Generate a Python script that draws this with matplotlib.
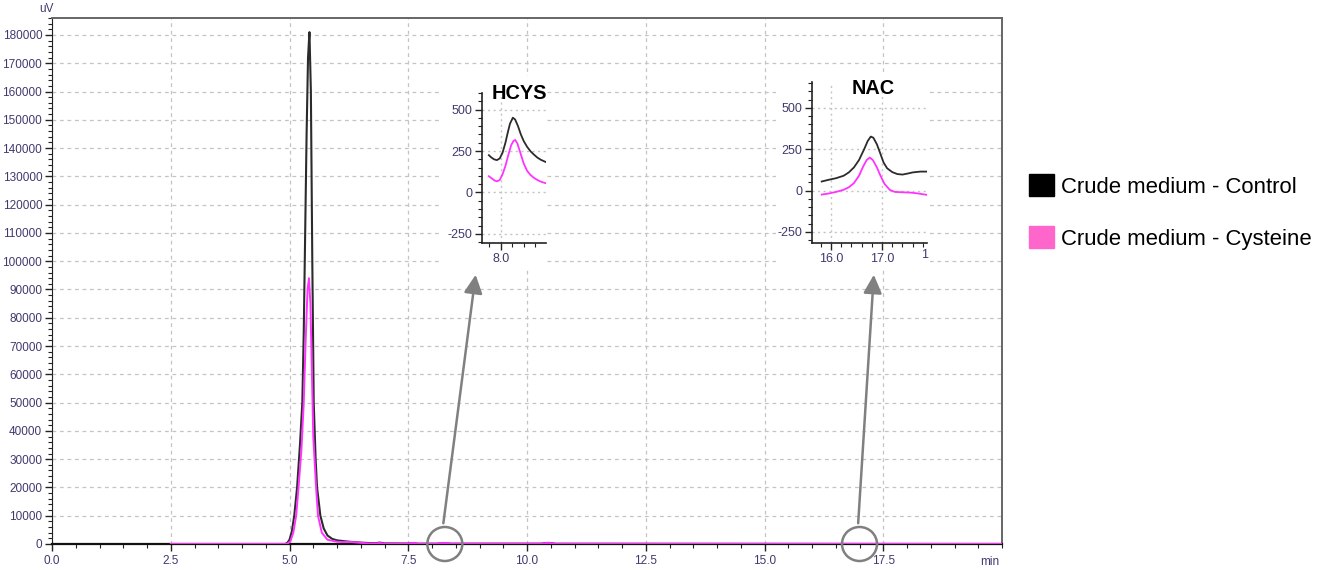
import matplotlib
matplotlib.use("Agg")
import matplotlib.pyplot as plt
from matplotlib.patches import Ellipse, Patch, FancyArrowPatch
from matplotlib.ticker import MultipleLocator, FixedLocator

plt.rcParams['font.family'] = ['Liberation Sans', 'DejaVu Sans']
plt.rcParams['axes.unicode_minus'] = False

# ---------------- data ----------------
time_ctrl = [2.5, 4.90, 4.95, 5.00, 5.05, 5.10, 5.16, 5.22, 5.27, 5.30, 5.33, 5.36, 5.39, 5.42,
             5.45, 5.48, 5.51, 5.55, 5.58, 5.65, 5.72, 5.80, 5.90, 6.00, 6.20, 6.40, 6.60,
             6.80, 6.90, 7.00, 7.50, 7.60, 7.70, 8.10, 8.25, 8.40, 10.30, 10.45, 10.60, 20.0]
sig_ctrl = [0, 0, 300, 1500, 4500, 10000, 20000, 35000, 50000, 75000, 110000, 145000, 172000, 181000,
            160000, 100000, 50000, 30000, 20000, 10000, 5500, 3000, 1800, 1300, 900, 600, 400,
            250, 500, 200, 150, 350, 100, 100, 300, 100, 100, 400, 80, 0]

time_cys = [2.5, 4.95, 5.02, 5.08, 5.14, 5.19, 5.25, 5.30, 5.34, 5.38, 5.41, 5.44, 5.47, 5.50, 5.56, 5.60,
            5.68, 5.80, 6.00, 6.10, 6.30, 6.45, 6.60, 6.80, 6.90, 7.00, 7.50, 7.60, 7.70,
            8.10, 8.25, 8.40, 10.30, 10.45, 10.60, 20.0]
sig_cys = [0, 0, 1000, 4000, 10000, 20000, 33000, 50000, 72000, 90000, 94000, 85000, 62000, 38000, 20000, 10000,
           4000, 1500, 800, 700, 700, 500, 250, 150, 350, 100, 100, 400, 80,
           80, 400, 80, 80, 400, 60, 0]

hcys_t = [7.79, 7.83, 7.88, 7.93, 7.98, 8.03, 8.08, 8.12, 8.16, 8.21, 8.25, 8.30, 8.35, 8.40,
          8.46, 8.52, 8.58, 8.64, 8.70, 8.79]
hcys_ctrl = [225, 212, 200, 195, 205, 240, 300, 360, 415, 451, 440, 400, 350, 310,
             275, 248, 228, 210, 197, 183]
hcys_cys_t = [7.79, 7.84, 7.89, 7.93, 7.98, 8.03, 8.08, 8.13, 8.18, 8.22, 8.25, 8.29, 8.34, 8.40,
              8.46, 8.52, 8.58, 8.64, 8.70, 8.79]
hcys_cys = [98, 85, 72, 67, 75, 110, 160, 225, 285, 310, 317, 295, 240, 175,
            130, 105, 88, 75, 65, 55]

nac_t = [15.82, 15.95, 16.10, 16.25, 16.35, 16.45, 16.55, 16.65, 16.72, 16.78, 16.83, 16.90,
         16.96, 17.03, 17.10, 17.20, 17.30, 17.40, 17.50, 17.60, 17.75, 17.88]
nac_ctrl = [55, 65, 75, 90, 110, 140, 185, 250, 300, 327, 320, 280,
            230, 170, 135, 112, 100, 97, 103, 110, 115, 115]
nac_cys_t = [15.82, 15.95, 16.10, 16.25, 16.35, 16.45, 16.55, 16.63, 16.70, 16.76, 16.82, 16.90,
             16.97, 17.05, 17.15, 17.25, 17.40, 17.55, 17.70, 17.88]
nac_cys = [-24, -18, -8, 5, 20, 45, 90, 145, 185, 200, 185, 140,
           90, 40, 5, -8, -10, -12, -17, -26]

y_ticks = list(range(0, 180001, 10000))
x_ticks = [0.0, 2.5, 5.0, 7.5, 10.0, 12.5, 15.0, 17.5]
legend_labels = ["Crude medium - Control", "Crude medium - Cysteine"]

# ---------------- styles ----------------
W, H = 1332, 570
C_CTRL = '#2b2b2b'
C_CYS = '#ff33ff'
TICKCOL = '#3f3a6e'
GRIDCOL = '#c4c4c4'

def box(x0, y0, x1, y1):
    return [x0 / W, 1 - y1 / H, (x1 - x0) / W, (y1 - y0) / H]

fig = plt.figure(figsize=(W / 100, H / 100), dpi=100)
ax = fig.add_axes(box(52, 18, 1002, 544))

ax.plot(time_ctrl, sig_ctrl, color=C_CTRL, lw=1.5, zorder=3)
ax.plot(time_cys, sig_cys, color=C_CYS, lw=1.4, zorder=4)
ax.set_xlim(0, 20.0)
ax.set_ylim(0, 186000)
ax.set_xticks(x_ticks)
ax.set_xticklabels([f"{v:.1f}" for v in x_ticks])
ax.xaxis.set_minor_locator(MultipleLocator(0.5))
ax.set_yticks(y_ticks)
ax.set_yticklabels([str(v) for v in y_ticks])
ax.yaxis.set_minor_locator(MultipleLocator(2000))
ax.tick_params(axis='both', which='major', direction='out', length=5, width=1,
               labelsize=8.5, labelcolor=TICKCOL, color='#222222', pad=2)
ax.tick_params(axis='both', which='minor', direction='out', length=3, width=0.8, color='#222222')
ax.tick_params(axis='x', which='major', pad=3)
ax.grid(True, which='major', color=GRIDCOL, linestyle=(0, (3, 3)), linewidth=0.9)
ax.set_axisbelow(True)
for s in ['top', 'right']:
    ax.spines[s].set_color('#666666')
    ax.spines[s].set_linewidth(1.4)
ax.spines['left'].set_color('#222222')
ax.spines['bottom'].set_color('#111111')
ax.spines['bottom'].set_linewidth(1.6)
fig.text(46 / W, 1 - 9 / H, 'uV', fontsize=8.5, color=TICKCOL, ha='center', va='center')
fig.text(990 / W, 1 - 562 / H, 'min', fontsize=8.5, color=TICKCOL, ha='center', va='center')

# circles and arrows
for cx in [8.27, 17.0]:
    e = Ellipse((cx, 0), width=35 / 47.5, height=34 * 186000 / 526, fill=False,
                edgecolor='#808080', lw=1.8, clip_on=False, zorder=6)
    ax.add_patch(e)
for (x0, y0, x1, y1) in [(443, 526, 476, 272), (858, 526, 874, 272)]:
    fig.add_artist(FancyArrowPatch(
        (x0 / W, 1 - y0 / H), (x1 / W, 1 - y1 / H), transform=fig.transFigure,
        arrowstyle='-|>,head_length=7,head_width=3.5', color='#808080', lw=1.8,
        mutation_scale=1.6, zorder=7))

# ---------------- insets ----------------
def make_inset(bg_box, ax_box, xlim, ylim, xmaj_labels, title, title_xy, tc, cc, tc2, cc2):
    bg = fig.add_axes(box(*bg_box))
    bg.set_facecolor('white')
    bg.set_xticks([]); bg.set_yticks([])
    for s in bg.spines.values():
        s.set_visible(False)
    bg.set_zorder(5)
    ia = fig.add_axes(box(*ax_box))
    ia.set_zorder(6)
    ia.patch.set_alpha(0)
    ia.plot(tc, cc, color=C_CTRL, lw=1.3)
    ia.plot(tc2, cc2, color=C_CYS, lw=1.3)
    ia.set_xlim(*xlim); ia.set_ylim(*ylim)
    ia.xaxis.set_major_locator(FixedLocator(xmaj_labels))
    ia.set_xticklabels([f"{v:.1f}" for v in xmaj_labels])
    ia.xaxis.set_minor_locator(MultipleLocator(0.2))
    ia.set_yticks([-250, 0, 250, 500])
    ia.set_yticklabels(['-250', '0', '250', '500'])
    ia.yaxis.set_minor_locator(MultipleLocator(50))
    ia.tick_params(axis='both', which='major', direction='out', length=5, width=1,
                   labelsize=9, labelcolor=TICKCOL, color='#222222', pad=2)
    ia.tick_params(axis='both', which='minor', direction='out', length=3, width=0.8, color='#222222')
    ia.grid(True, which='major', color=GRIDCOL, linestyle=(0, (1.5, 2.5)), linewidth=1)
    ia.spines['top'].set_visible(False)
    ia.spines['right'].set_visible(False)
    for s in ['left', 'bottom']:
        ia.spines[s].set_color('#222222')
        ia.spines[s].set_linewidth(1.2)
    fig.text(title_xy[0] / W, 1 - title_xy[1] / H, title, fontsize=14.3, fontweight='bold',
             ha='center', va='center', zorder=8)
    return ia

make_inset((442, 76, 547, 268), (482, 93, 546, 243), (7.67, 8.79), (-305, 600), [8.0],
           'HCYS', (519, 93), hcys_t, hcys_ctrl, hcys_cys_t, hcys_cys)
make_inset((776, 72, 928, 268), (812, 82, 927, 243), (15.63, 17.88), (-317, 657), [16.0, 17.0],
           'NAC', (873, 89), nac_t, nac_ctrl, nac_cys_t, nac_cys)
fig.text(925 / W, 1 - 255 / H, '1', fontsize=9, color=TICKCOL, ha='center', va='center', zorder=8)

# ---------------- legend ----------------
handles = [Patch(facecolor='#000000', edgecolor='#000000'),
           Patch(facecolor='#ff66cc', edgecolor='#ff66cc')]
fig.legend(handles, legend_labels, loc='center left', bbox_to_anchor=(1029 / W, 1 - 212 / H),
           frameon=False, fontsize=15.9, handlelength=1.15, handleheight=1.15,
           handletextpad=0.3, labelspacing=1.3, borderpad=0, borderaxespad=0)

fig.savefig('out.png', dpi=100)
